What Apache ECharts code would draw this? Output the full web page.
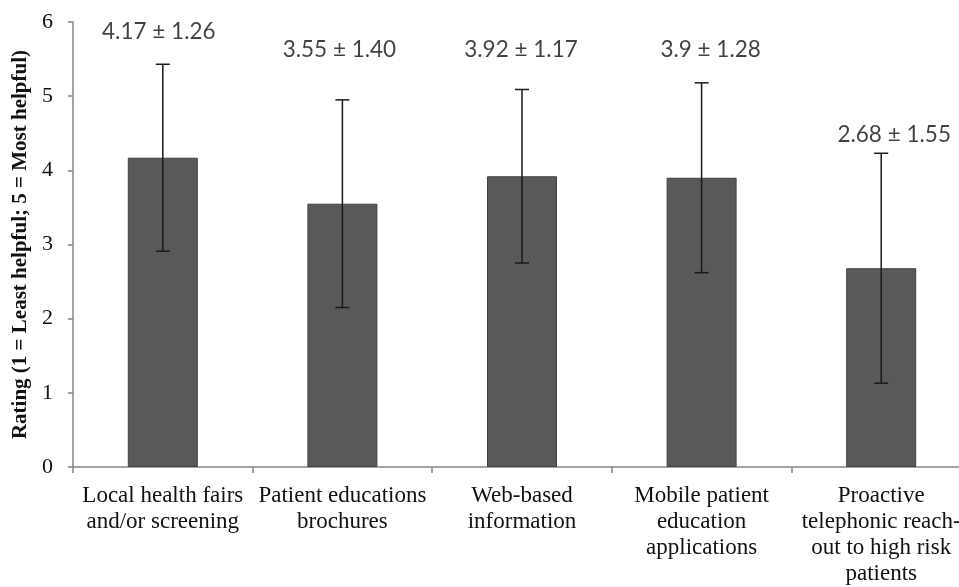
<!DOCTYPE html>
<html><head><meta charset="utf-8">
<script src="https://cdn.jsdelivr.net/npm/echarts@6/dist/echarts.min.js"></script>
<style>html,body{margin:0;padding:0;background:#fff;overflow:hidden;width:959px;height:587px}#c{width:972px;height:587px}</style>
</head><body><div id="c"></div>
<script>
const categories = ["Local health fairs\nand/or screening", "Patient educations\nbrochures", "Web-based\ninformation", "Mobile patient\neducation\napplications", "Proactive\ntelephonic reach-\nout to high risk\npatients"];
const means = [4.17, 3.55, 3.92, 3.9, 2.68];
const sds = [1.26, 1.40, 1.17, 1.28, 1.55];
const labelTexts = ["4.17 \u00b1 1.26", "3.55 \u00b1 1.40", "3.92 \u00b1 1.17", "3.9 \u00b1 1.28", "2.68 \u00b1 1.55"];
const labelLevels = [5.87, 5.62, 5.62, 5.62, 4.48];
const yTicks = [0, 1, 2, 3, 4, 5, 6];

const labelNudge = [-4, -3, -1, 9, 13];

const chart = echarts.init(document.getElementById('c'), null, {renderer: 'canvas'});
const errData = means.map((m, i) => [i, m - sds[i], m + sds[i]]);
const lblData = labelLevels.map((v, i) => ({value: [i, v], label: {formatter: labelTexts[i], offset: [labelNudge[i], 0]}}));

chart.setOption({
  animation: false,
  grid: {left: 73, top: 22, right: 1, bottom: 118, containLabel: false},
  xAxis: {
    type: 'category', data: categories,
    axisLine: {lineStyle: {color: '#868686', width: 1.5}},
    axisTick: {show: true, length: 6, lineStyle: {color: '#868686', width: 1.5}},
    axisLabel: {fontFamily: 'Liberation Serif', fontSize: 23, color: '#111', lineHeight: 26, margin: 16, interval: 0}
  },
  yAxis: {
    type: 'value', min: 0, max: 6, interval: 1,
    name: 'Rating (1 = Least helpful; 5 = Most helpful)',
    nameLocation: 'middle', nameGap: 42, nameRotate: 90,
    nameTextStyle: {fontFamily: 'Liberation Serif', fontSize: 21, fontWeight: 'bold', color: '#111'},
    axisLine: {show: true, lineStyle: {color: '#868686', width: 1.5}},
    axisTick: {show: true, length: 5, lineStyle: {color: '#868686', width: 1.5}},
    splitLine: {show: false},
    axisLabel: {fontFamily: 'Liberation Serif', fontSize: 22, color: '#111', margin: 20,
      formatter: v => yTicks.includes(v) ? String(v) : ''}
  },
  series: [
    {type: 'bar', data: means, barWidth: 70,
     itemStyle: {color: '#595959', borderColor: '#404040', borderWidth: 1}},
    {type: 'custom', data: errData, z: 5,
     renderItem: function (params, api) {
       const i = api.value(0);
       const lo = api.coord([i, api.value(1)]);
       const hi = api.coord([i, api.value(2)]);
       const hw = 7;
       const st = {stroke: '#1a1a1a', lineWidth: 1.5};
       return {type: 'group', children: [
         {type: 'line', shape: {x1: hi[0], y1: hi[1], x2: lo[0], y2: lo[1]}, style: st},
         {type: 'line', shape: {x1: hi[0] - hw, y1: hi[1], x2: hi[0] + hw, y2: hi[1]}, style: st},
         {type: 'line', shape: {x1: lo[0] - hw, y1: lo[1], x2: lo[0] + hw, y2: lo[1]}, style: st}
       ]};
     }},
    {type: 'scatter', data: lblData, symbolSize: 0, z: 6,
     label: {show: true, position: 'inside', fontFamily: 'Lato', fontSize: 22.5, color: '#111'}}
  ]
});
</script></body></html>
